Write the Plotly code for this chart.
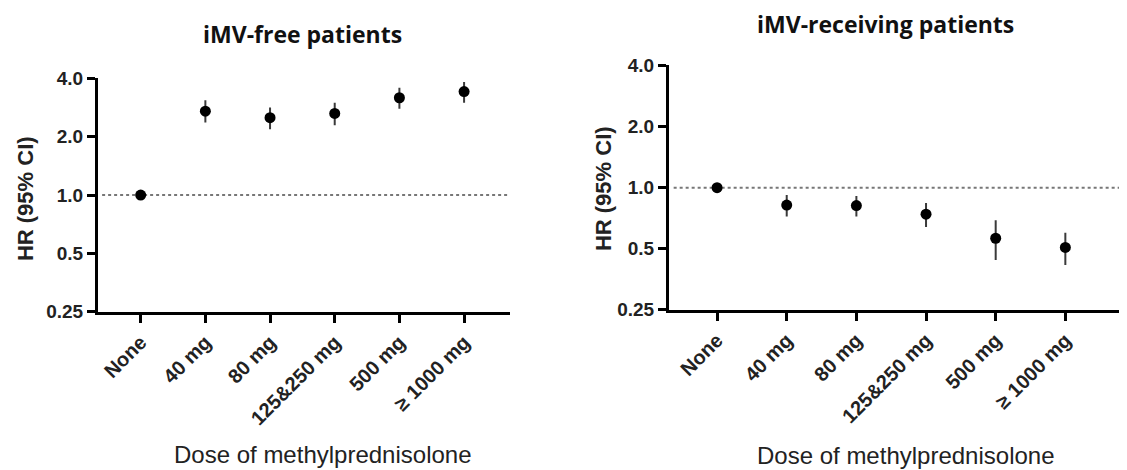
import plotly.graph_objects as go
import math

doses = ["None", "40 mg", "80 mg", "125&250 mg", "500 mg", "≥ 1000 mg"]

free_hr = [1.0, 2.71, 2.51, 2.64, 3.18, 3.42]
free_lo = [1.0, 2.37, 2.19, 2.29, 2.79, 3.00]
free_hi = [1.0, 3.09, 2.83, 3.00, 3.58, 3.83]

recv_hr = [1.0, 0.82, 0.816, 0.74, 0.563, 0.507]
recv_lo = [1.0, 0.72, 0.72, 0.64, 0.44, 0.416]
recv_hi = [1.0, 0.92, 0.91, 0.84, 0.69, 0.60]

ytick_vals = [0.25, 0.5, 1.0, 2.0, 4.0]
ytick_text = ["0.25", "0.5", "1.0", "2.0", "4.0"]

titles = ["iMV-free patients", "iMV-receiving patients"]
x_title = "Dose of methylprednisolone"
y_title = "HR (95% CI)"

W, H = 1127, 470
xs = list(range(len(doses)))


def px(x):
    # target pixel x -> paper fraction
    return (x - 5) / W


def py(y):
    # target pixel y -> paper fraction
    return 1 - ((y - 18.4) / 0.958) / H


fig = go.Figure()


def add_series(hr, lo, hi, xa, ya):
    fig.add_trace(go.Scatter(
        x=xs, y=hr, mode="markers", xaxis=xa, yaxis=ya,
        marker=dict(color="black", size=11, symbol="circle"),
        error_y=dict(type="data", symmetric=False,
                     array=[h - m for h, m in zip(hi, hr)],
                     arrayminus=[m - l for m, l in zip(hr, lo)],
                     color="#3a3a3a", thickness=2, width=0),
        showlegend=False, cliponaxis=False))


add_series(free_hr, free_lo, free_hi, "x", "y")
add_series(recv_hr, recv_lo, recv_hi, "x2", "y2")

xtickfont = dict(family="Liberation Sans, Arial, sans-serif", size=20, color="#222", weight="bold")
ytickfont = dict(family="Liberation Sans, Arial, sans-serif", size=19, color="#222", weight="bold")


def xax(domain, rng, anchor):
    return dict(domain=domain, range=rng, anchor=anchor,
                tickmode="array", tickvals=xs, ticktext=doses, tickangle=-45,
                showline=True, linecolor="black", linewidth=3,
                ticks="outside", ticklen=8, tickwidth=3, tickcolor="black",
                showgrid=False, zeroline=False, tickfont=xtickfont)


def yax(domain, anchor):
    return dict(domain=domain, type="log", anchor=anchor,
                range=[math.log10(0.25), math.log10(4.0)],
                tickmode="array", tickvals=ytick_vals, ticktext=ytick_text,
                showline=True, linecolor="black", linewidth=3,
                ticks="outside", ticklen=8, tickwidth=3, tickcolor="black",
                showgrid=False, zeroline=False, tickfont=ytickfont)


fig.update_layout(
    width=W, height=H,
    margin=dict(l=0, r=0, t=0, b=0),
    paper_bgcolor="white", plot_bgcolor="white",
    xaxis=xax([px(95), px(507)], [-0.66, 5.71], "y"),
    yaxis=yax([py(313), py(79)], "x"),
    xaxis2=xax([px(666), 1.0], [-0.69, 6.0], "y2"),
    yaxis2=yax([py(311), py(66)], "x2"),
)

for xr, yr in [("x domain", "y"), ("x2 domain", "y2")]:
    fig.add_shape(type="line", xref=xr, yref=yr, x0=0.01, x1=1, y0=1.0, y1=1.0,
                  line=dict(color="#777", width=2, dash="dot"), layer="below")

title_font_l = dict(family="Open Sans, DejaVu Sans, sans-serif", size=23, color="#111", weight="bold")
title_font_r = dict(family="Open Sans, DejaVu Sans, sans-serif", size=23, color="#111", weight="bold")
ann_font_ax = dict(family="Liberation Sans, Arial, sans-serif", size=24, color="#222")
ann_font_y = dict(family="Liberation Sans, Arial, sans-serif", size=22, color="#222", weight="bold")

fig.add_annotation(text=titles[0], x=px(299), y=py(34), xref="paper", yref="paper",
                   showarrow=False, font=title_font_l, xanchor="center", yanchor="middle",
                   borderpad=0)
fig.add_annotation(text=titles[1], x=px(882), y=py(24), xref="paper", yref="paper",
                   showarrow=False, font=title_font_r, xanchor="center", yanchor="middle",
                   borderpad=0)
fig.add_annotation(text=x_title, x=px(320), y=py(456), xref="paper", yref="paper",
                   showarrow=False, font=ann_font_ax, xanchor="center", yanchor="middle")
fig.add_annotation(text=x_title, x=px(903), y=py(457), xref="paper", yref="paper",
                   showarrow=False, font=ann_font_ax, xanchor="center", yanchor="middle")
fig.add_annotation(text=y_title, x=px(22), y=py(200), xref="paper", yref="paper",
                   showarrow=False, font=ann_font_y, textangle=-90, xanchor="center", yanchor="middle")
fig.add_annotation(text=y_title, x=px(600), y=py(190), xref="paper", yref="paper",
                   showarrow=False, font=ann_font_y, textangle=-90, xanchor="center", yanchor="middle")

fig.write_html("out.html")
